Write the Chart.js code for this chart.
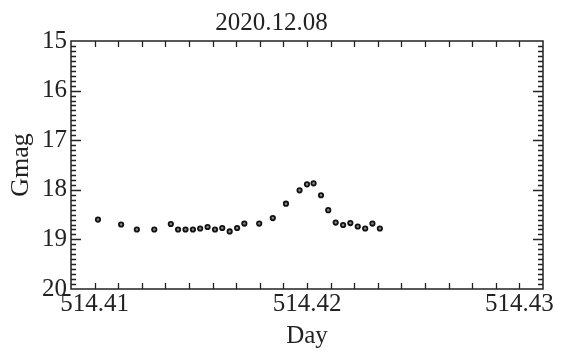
<!DOCTYPE html>
<html lang="en">
<head>
<meta charset="UTF-8">
<title>2020.12.08 - Gmag</title>
<script src="https://cdn.jsdelivr.net/npm/chart.js"></script>
<style>
    html, body {
        margin: 0;
        padding: 0;
        background: #fff;
    }
    #wrap {
        width: 577px;
        height: 351px;
    }
</style>
</head>
<body>
<div id="wrap"><canvas id="lc"></canvas></div>
<script>
// light curve
const days = [
    514.41016, 514.41125, 514.41199, 514.41281, 514.41359, 514.41393,
    514.41428, 514.41463, 514.41497, 514.41532, 514.41567, 514.41601,
    514.41636, 514.41671, 514.41705, 514.41775, 514.41839, 514.41901,
    514.41965, 514.42000, 514.42031, 514.42066, 514.42100, 514.42135,
    514.42170, 514.42204, 514.42239, 514.42274, 514.42308, 514.42343
];
const gmag = [
    18.60, 18.70, 18.80, 18.80, 18.69, 18.80,
    18.80, 18.80, 18.78, 18.75, 18.80, 18.77,
    18.84, 18.77, 18.68, 18.68, 18.57, 18.28,
    18.01, 17.89, 17.87, 18.11, 18.41, 18.66,
    18.71, 18.67, 18.74, 18.78, 18.68, 18.78
];

const xTickLabels = [514.41, 514.42, 514.43];
const yTickLabels = [15, 16, 17, 18, 19, 20];
const xMin = 514.40889, xMax = 514.43111;
const xMarkStep = 0.01 / 9;   // small marks between the labelled days
const yMinorStep = 0.1;

const serif = "'Liberation Serif', 'Times New Roman', serif";
const ink = '#222';

// frame + inward tick marks like the original plot
const framePlugin = {
    id: 'frame',
    afterDraw(chart) {
        const { ctx, chartArea: a, scales: { x, y } } = chart;
        ctx.save();
        ctx.strokeStyle = ink;
        ctx.lineWidth = 1.5;
        ctx.strokeRect(a.left, a.top, a.right - a.left, a.bottom - a.top);

        ctx.lineWidth = 1.3;
        ctx.beginPath();
        for (let k = 1; ; k++) {
            const v = xMin + k * xMarkStep;
            if (v >= xMax - 1e-7) break;
            const px = Math.round(x.getPixelForValue(v)) + 0.5;
            ctx.moveTo(px, a.bottom); ctx.lineTo(px, a.bottom - 6);
            ctx.moveTo(px, a.top); ctx.lineTo(px, a.top + 6);
        }
        const yLo = yTickLabels[0], yHi = yTickLabels[yTickLabels.length - 1];
        const n = Math.round((yHi - yLo) / yMinorStep);
        for (let k = 1; k < n; k++) {
            const py = Math.round(y.getPixelForValue(yLo + k * yMinorStep)) + 0.5;
            const len = k % 10 === 0 ? 10 : 5;
            ctx.moveTo(a.left, py); ctx.lineTo(a.left + len, py);
            ctx.moveTo(a.right, py); ctx.lineTo(a.right - len, py);
        }
        ctx.stroke();
        ctx.restore();
    }
};

new Chart(document.getElementById('lc'), {
    type: 'scatter',
    data: {
        datasets: [{
            data: days.map((d, i) => ({ x: d, y: gmag[i] })),
            pointStyle: 'circle',
            pointRadius: 2.2,
            pointBorderWidth: 1.8,
            pointBorderColor: '#111',
            pointBackgroundColor: '#888'
        }]
    },
    options: {
        responsive: true,
        maintainAspectRatio: false,
        animation: false,
        layout: { padding: { left: 0, right: 34, top: 0, bottom: 0 } },
        plugins: {
            legend: { display: false },
            tooltip: { enabled: false },
            title: {
                display: true,
                text: '2020.12.08',
                color: ink,
                font: { family: serif, size: 25, weight: 'normal' },
                padding: { top: 8, bottom: 3 }
            }
        },
        scales: {
            x: {
                type: 'linear',
                min: xMin,
                max: xMax,
                grid: { display: false, drawTicks: false },
                border: { display: false },
                afterBuildTicks: s => { s.ticks = xTickLabels.map(v => ({ value: v })); },
                afterFit: s => { s.height = 62; },
                ticks: {
                    color: ink,
                    padding: 0,
                    maxRotation: 0,
                    font: { family: serif, size: 25 },
                    callback: v => v.toFixed(2)
                },
                title: {
                    display: true,
                    text: 'Day',
                    color: ink,
                    font: { family: serif, size: 25 },
                    padding: { top: 0, bottom: 0 }
                }
            },
            y: {
                type: 'linear',
                reverse: true,
                min: 15,
                max: 20,
                grid: { display: false, drawTicks: false },
                border: { display: false },
                afterBuildTicks: s => { s.ticks = yTickLabels.map(v => ({ value: v })); },
                afterFit: s => { s.width = 71; },
                ticks: {
                    color: ink,
                    padding: 4,
                    font: { family: serif, size: 25 }
                },
                title: {
                    display: true,
                    text: 'Gmag',
                    color: ink,
                    font: { family: serif, size: 26 },
                    padding: { top: 6, bottom: 0 }
                }
            }
        }
    },
    plugins: [framePlugin]
});
</script>
</body>
</html>
